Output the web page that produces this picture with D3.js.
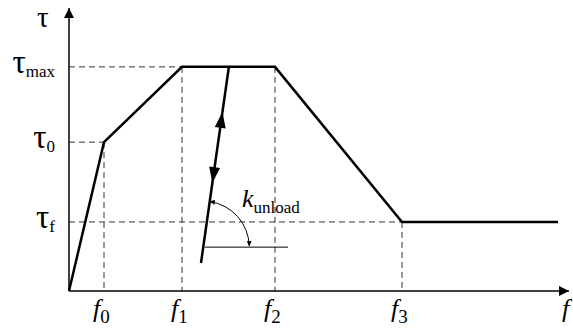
<!DOCTYPE html>
<html>
<head>
<meta charset="utf-8">
<script src="https://cdn.jsdelivr.net/npm/d3@7"></script>
<style>
  body { margin: 0; background: #fff; }
</style>
</head>
<body>
<div id="chart"></div>
<script>
// slip (f) and stress (tau) key points of the bond-slip law, arbitrary units
let fKeys = ["0", "1", "2", "3"];
let fVals = [7, 22.6, 41.2, 66.6];
let tauKeys = ["max", "0", "f"];
let tauVals = [79.2, 52.6, 24.4];
let curveF = [0, 7, 22.6, 41.2, 66.6, 97.8];
let curveTau = [0, 52.6, 79.2, 79.2, 24.4, 24.4];
// unloading branch and the horizontal reference for the angle
let unloadF = [32, 26.4];
let unloadTau = [79.5, 9.9];
let refF = [27.2, 43.8];
let refTau = 15.5;

var width = 573, height = 331;
var serif = "'Liberation Serif', 'Times New Roman', Times, 'DejaVu Serif', serif";

let svg = d3.select("#chart")
            .append("svg")
                .attr("width", width)
                .attr("height", height)
                .attr("font-family", serif);

var x = d3.scaleLinear().domain([0, 100]).range([69, 569]);
var y = d3.scaleLinear().domain([0, 100]).range([291, 8]);

// arrow markers
const defs = svg.append("defs");
defs.append("marker")
    .attr("id", "axisArrow")
    .attr("viewBox", "0 0 10 10")
    .attr("refX", 10).attr("refY", 5)
    .attr("markerWidth", 18).attr("markerHeight", 10)
    .attr("markerUnits", "userSpaceOnUse")
    .attr("orient", "auto")
    .append("path").attr("d", "M0,0 L10,5 L0,10 Z").attr("fill", "#000");
defs.append("marker")
    .attr("id", "arcArrow")
    .attr("viewBox", "0 0 10 10")
    .attr("refX", 10).attr("refY", 5)
    .attr("markerWidth", 9).attr("markerHeight", 5)
    .attr("markerUnits", "userSpaceOnUse")
    .attr("orient", "auto-start-reverse")
    .append("path").attr("d", "M0,0 L10,5 L0,10 Z").attr("fill", "#000");

// dashed guide lines
const dash = svg.append("g")
    .attr("stroke", "#333")
    .attr("stroke-width", 1)
    .attr("stroke-dasharray", "6,4")
    .attr("fill", "none");

var tauEnd = [fVals[1], fVals[0], fVals[3]];
tauVals.forEach((t, i) => {
    dash.append("line")
        .attr("x1", x(0)).attr("x2", x(tauEnd[i]))
        .attr("y1", y(t)).attr("y2", y(t));
});
var fTop = [tauVals[1], tauVals[0], tauVals[0], tauVals[2]];
fVals.forEach((f, i) => {
    dash.append("line")
        .attr("x1", x(f)).attr("x2", x(f))
        .attr("y1", y(fTop[i])).attr("y2", y(0));
});

// axes
svg.append("line")
    .attr("x1", x(0)).attr("x2", x(100))
    .attr("y1", y(0)).attr("y2", y(0))
    .attr("stroke", "#000").attr("stroke-width", 1.5)
    .attr("marker-end", "url(#axisArrow)");
svg.append("line")
    .attr("x1", x(0)).attr("x2", x(0))
    .attr("y1", y(0)).attr("y2", y(100))
    .attr("stroke", "#000").attr("stroke-width", 1.5)
    .attr("marker-end", "url(#axisArrow)");

// main curve
var line = d3.line().x(d => x(d[0])).y(d => y(d[1]));
svg.append("path")
    .datum(d3.zip(curveF, curveTau))
    .attr("d", line)
    .attr("fill", "none")
    .attr("stroke", "#000")
    .attr("stroke-width", 2.5)
    .attr("stroke-linejoin", "miter");

// unloading line
svg.append("path")
    .datum(d3.zip(unloadF, unloadTau))
    .attr("d", line)
    .attr("fill", "none")
    .attr("stroke", "#000")
    .attr("stroke-width", 2.5);

// arrowheads along unloading line (tip at fraction t, pointing up or down)
var p0 = [x(unloadF[0]), y(unloadTau[0])], p1 = [x(unloadF[1]), y(unloadTau[1])];
var len = Math.hypot(p1[0] - p0[0], p1[1] - p0[1]);
var ux = (p1[0] - p0[0]) / len, uy = (p1[1] - p0[1]) / len;
function headAt(t, dir) {
    var tx = p0[0] + (p1[0] - p0[0]) * t, ty = p0[1] + (p1[1] - p0[1]) * t;
    var bx = tx - dir * ux * 16, by = ty - dir * uy * 16;
    var nx = -uy * 5.5, ny = ux * 5.5;
    svg.append("polygon")
        .attr("points", [[tx, ty], [bx + nx, by + ny], [bx - nx, by - ny]].map(p => p.join(",")).join(" "))
        .attr("fill", "#000");
}
headAt(0.233, -1);
headAt(0.594, 1);

// horizontal reference line
svg.append("line")
    .attr("x1", x(refF[0])).attr("x2", x(refF[1]))
    .attr("y1", y(refTau)).attr("y2", y(refTau))
    .attr("stroke", "#000").attr("stroke-width", 1);

// angle arc between unloading line and horizontal
var cy0 = y(refTau);
var tc = (cy0 - p0[1]) / (p1[1] - p0[1]);
var cx0 = p0[0] + (p1[0] - p0[0]) * tc;
var r = 46;
var a1 = Math.atan2(p0[1] - cy0, p0[0] - cx0);
var sx = cx0 + r * Math.cos(a1), sy = cy0 + r * Math.sin(a1);
svg.append("path")
    .attr("d", "M" + sx + "," + sy + " A" + r + "," + r + " 0 0 1 " + (cx0 + r) + "," + (cy0 - 1))
    .attr("fill", "none")
    .attr("stroke", "#000")
    .attr("stroke-width", 1)
    .attr("marker-start", "url(#arcArrow)")
    .attr("marker-end", "url(#arcArrow)");

// k_unload label
var kl = svg.append("text")
    .attr("x", 242).attr("y", 207)
    .attr("font-size", 26);
kl.append("tspan").attr("font-style", "italic").text("k");
kl.append("tspan").attr("dy", 6).attr("font-size", 17).text("unload");

// tau labels, right aligned against the axis
tauVals.forEach((t, i) => {
    var tl = svg.append("text")
        .attr("x", 55).attr("y", y(t) + 6)
        .attr("text-anchor", "end")
        .attr("font-size", 33);
    tl.append("tspan").text("τ");
    tl.append("tspan").attr("dy", 4).attr("font-size", 17).text(tauKeys[i]);
});
svg.append("text")
    .attr("x", 37).attr("y", 27)
    .attr("font-size", 29)
    .text("τ");

// f labels
fVals.forEach((f, i) => {
    var fl = svg.append("text")
        .attr("x", x(f) - 11).attr("y", 317)
        .attr("font-size", 26);
    fl.append("tspan").attr("font-style", "italic").text("f");
    fl.append("tspan").attr("dy", 6).attr("font-size", 19).text(fKeys[i]);
});
svg.append("text")
    .attr("x", 562).attr("y", 317)
    .attr("font-size", 26)
    .attr("font-style", "italic")
    .text("f");
</script>
</body>
</html>
